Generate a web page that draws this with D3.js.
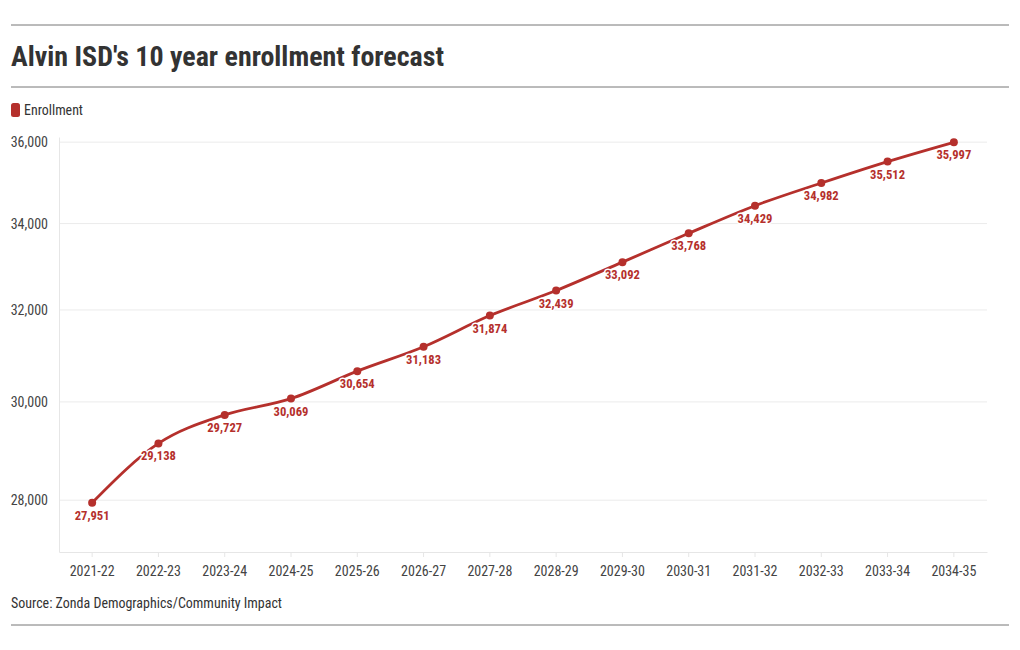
<!DOCTYPE html>
<html><head><meta charset="utf-8">
<script src="https://cdn.jsdelivr.net/npm/d3@7"></script>
<style>
body{margin:0;background:#fff;}
text{font-family:"Roboto Condensed",Roboto,sans-serif;}
</style></head>
<body><svg id="c" width="1020" height="650"></svg>
<script>
const categories = ["2021-22","2022-23","2023-24","2024-25","2025-26","2026-27","2027-28","2028-29","2029-30","2030-31","2031-32","2032-33","2033-34","2034-35"];
const enrollment = [27951,29138,29727,30069,30654,31183,31874,32439,33092,33768,34429,34982,35512,35997];
const yTicks = [28000,30000,32000,34000,36000];
const seriesName = "Enrollment";
const titleText = "Alvin ISD's 10 year enrollment forecast";
const sourceText = "Source: Zonda Demographics/Community Impact";

const red = "#b5302c";
const svg = d3.select("#c");
const L = 59, R = 987, T = 137, B = 552;

[25, 87, 625].forEach(y => svg.append("line").attr("x1", 11).attr("x2", 1009).attr("y1", y).attr("y2", y)
  .attr("stroke", "#777").attr("stroke-width", 1));

function fit(sel, w){ const n = sel.node(); if (n.getComputedTextLength() > w) sel.attr("textLength", w).attr("lengthAdjust", "spacingAndGlyphs"); }

const title = svg.append("text").attr("x", 11).attr("y", 66).attr("font-size", 28).attr("font-weight", 700)
  .attr("fill", "#333").text(titleText);
fit(title, 433);

svg.append("rect").attr("x", 11).attr("y", 103).attr("width", 9).attr("height", 14).attr("rx", 2.5).attr("fill", red);
const lg = svg.append("text").attr("x", 24).attr("y", 115).attr("font-size", 14).attr("fill", "#333").text(seriesName);
fit(lg, 59);

const x = d3.scaleBand().domain(categories).range([L, R]);
const y = d3.scaleLog().domain([27000, 36130]).range([B, T]);

svg.append("g").selectAll("line").data(yTicks).join("line")
  .attr("x1", L).attr("x2", R).attr("y1", d => y(d)).attr("y2", d => y(d))
  .attr("stroke", "#ebebeb").attr("stroke-width", 1);

const yAxis = svg.append("g").attr("transform", `translate(${L},0)`)
  .call(d3.axisLeft(y).tickValues(yTicks).tickFormat(d3.format(",")).tickSize(0).tickPadding(11));
yAxis.select(".domain").attr("stroke", "#e6e6e6");
yAxis.selectAll("text").attr("font-size", 14).attr("fill", "#444").attr("font-family", null);

const xAxis = svg.append("g").attr("transform", `translate(0,${B})`)
  .call(d3.axisBottom(x).tickSize(5).tickPadding(6).tickSizeOuter(0));
xAxis.select(".domain").attr("stroke", "#e6e6e6");
xAxis.selectAll(".tick line").attr("stroke", "#e6e6e6");
xAxis.selectAll("text").attr("font-size", 14).attr("fill", "#444").attr("font-family", null).attr("dy", "0.95em");

const cx = d => x(d) + x.bandwidth() / 2;
const pts = categories.map((c, i) => [cx(c), y(enrollment[i])]);

svg.append("path").datum(pts).attr("d", d3.line().curve(d3.curveMonotoneX))
  .attr("fill", "none").attr("stroke", red).attr("stroke-width", 2.8);

svg.append("g").selectAll("circle").data(pts).join("circle")
  .attr("cx", d => d[0]).attr("cy", d => d[1]).attr("r", 4).attr("fill", red);

svg.append("g").selectAll("text").data(pts).join("text")
  .attr("x", d => d[0]).attr("y", d => d[1] + 17).attr("text-anchor", "middle")
  .attr("font-size", 12.6).attr("font-weight", 700).attr("fill", red)
  .attr("stroke", "#fff").attr("stroke-width", 3).attr("paint-order", "stroke")
  .text((d, i) => d3.format(",")(enrollment[i]));

const src = svg.append("text").attr("x", 11).attr("y", 608).attr("font-size", 14).attr("fill", "#333").text(sourceText);
fit(src, 271);
</script></body></html>
